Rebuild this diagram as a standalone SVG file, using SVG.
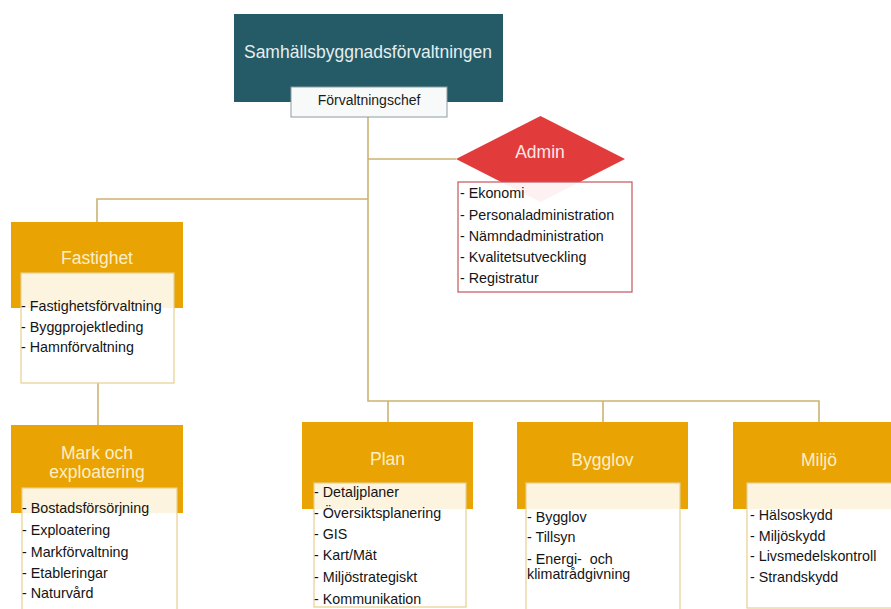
<svg xmlns="http://www.w3.org/2000/svg" width="891" height="609" viewBox="0 0 891 609">
<style>
text{font-family:"Liberation Sans",Arial,sans-serif}
.conn{fill:none;stroke:#cdb271;stroke-width:1.6}
.dept{fill:#e9a303}
.dtitle{fill:#fcefc7;font-size:17.5px;text-anchor:middle}
.inner{fill:#ffffff;fill-opacity:0.88;stroke:#e6cf8e;stroke-width:1.2}
.item{fill:#141414;font-size:14.3px}
</style>
<rect width="891" height="609" fill="#ffffff"/>
<g id="connectors">
<path class="conn" d="M368,117 V401 H819 V422"/>
<path class="conn" d="M368,159 H456"/>
<path class="conn" d="M368,199 H97 V222"/>
<path class="conn" d="M98,383 V425"/>
<path class="conn" d="M388,401 V422"/>
<path class="conn" d="M603,401 V422"/>
</g>
<g id="top">
<rect x="234" y="14" width="269" height="88" fill="#245b66"/>
<text x="368" y="58" font-size="17.5" fill="#e6eef0" text-anchor="middle">Samhällsbyggnadsförvaltningen</text>
<rect x="291" y="87" width="156" height="30" fill="#f8fafa" stroke="#8c9ca2" stroke-width="1"/>
<text x="369" y="105" font-size="14" fill="#1a1a1a" text-anchor="middle">Förvaltningschef</text>
</g>
<g id="admin">
<polygon points="456,159 540.5,116 625,159 540.5,202" fill="#e23b3b"/>
<text x="540" y="158" font-size="17.5" fill="#fde8e8" text-anchor="middle">Admin</text>
<rect x="458" y="182" width="174" height="110" fill="#ffffff" fill-opacity="0.93" stroke="#c4565e" stroke-width="1.2"/>
<text class="item" x="460" y="198">- Ekonomi</text>
<text class="item" x="460" y="220">- Personaladministration</text>
<text class="item" x="460" y="241">- Nämndadministration</text>
<text class="item" x="460" y="262">- Kvalitetsutveckling</text>
<text class="item" x="460" y="283">- Registratur</text>
</g>
<g id="fastighet">
<rect class="dept" x="11" y="222" width="172" height="86"/>
<text class="dtitle" x="97" y="264">Fastighet</text>
<rect class="inner" x="21" y="273" width="153" height="110"/>
<text class="item" x="21" y="311">- Fastighetsförvaltning</text>
<text class="item" x="21" y="332">- Byggprojektleding</text>
<text class="item" x="21" y="352">- Hamnförvaltning</text>
</g>
<g id="mark">
<rect class="dept" x="11" y="425" width="172" height="88"/>
<text class="dtitle" x="97" y="459">Mark och</text>
<text class="dtitle" x="97" y="478">exploatering</text>
<rect class="inner" x="22" y="488" width="155" height="125"/>
<text class="item" x="22" y="513">- Bostadsförsörjning</text>
<text class="item" x="22" y="535">- Exploatering</text>
<text class="item" x="22" y="557">- Markförvaltning</text>
<text class="item" x="22" y="578">- Etableringar</text>
<text class="item" x="22" y="598">- Naturvård</text>
</g>
<g id="plan">
<rect class="dept" x="302" y="422" width="171" height="87"/>
<text class="dtitle" x="387.5" y="465">Plan</text>
<rect class="inner" x="314" y="483" width="152" height="124"/>
<text class="item" x="314" y="497">- Detaljplaner</text>
<text class="item" x="314" y="518">- Översiktsplanering</text>
<text class="item" x="314" y="539">- GIS</text>
<text class="item" x="314" y="560">- Kart/Mät</text>
<text class="item" x="314" y="582">- Miljöstrategiskt</text>
<text class="item" x="314" y="604">- Kommunikation</text>
</g>
<g id="bygglov">
<rect class="dept" x="517" y="422" width="171" height="87"/>
<text class="dtitle" x="602.5" y="466">Bygglov</text>
<rect class="inner" x="526" y="483" width="154" height="130"/>
<text class="item" x="527" y="522">- Bygglov</text>
<text class="item" x="527" y="542">- Tillsyn</text>
<text class="item" x="527" y="564" xml:space="preserve">- Energi-  och</text>
<text class="item" x="527" y="579">klimatrådgivning</text>
</g>
<g id="miljo">
<rect class="dept" x="733" y="422" width="171" height="87"/>
<text class="dtitle" x="819" y="466">Miljö</text>
<rect class="inner" x="747" y="483" width="154" height="125"/>
<text class="item" x="750" y="520">- Hälsoskydd</text>
<text class="item" x="750" y="541">- Miljöskydd</text>
<text class="item" x="750" y="561">- Livsmedelskontroll</text>
<text class="item" x="750" y="582">- Strandskydd</text>
</g>
</svg>
